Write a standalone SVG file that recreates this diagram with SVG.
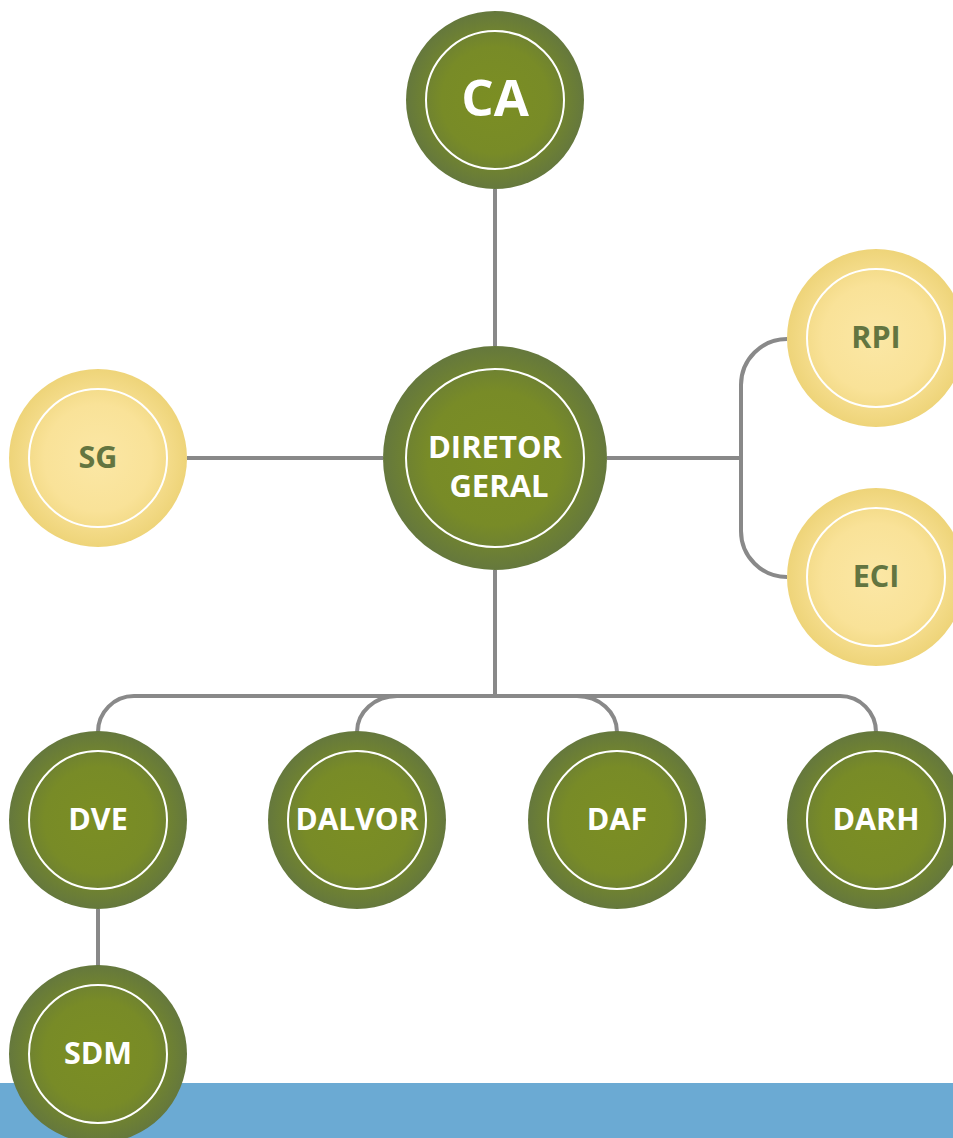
<svg xmlns="http://www.w3.org/2000/svg" width="953" height="1138" viewBox="0 0 953 1138">
<defs>
<radialGradient id="gG" cx="50%" cy="50%" r="50%">
<stop offset="0" stop-color="#7b8e23"/>
<stop offset="0.6" stop-color="#788b27"/>
<stop offset="1" stop-color="#65783d"/>
</radialGradient>
<radialGradient id="gY" cx="50%" cy="50%" r="50%">
<stop offset="0" stop-color="#fbe7a5"/>
<stop offset="0.6" stop-color="#f9e298"/>
<stop offset="1" stop-color="#eed479"/>
</radialGradient>
<style>
.conn{fill:none;stroke:#898989;stroke-width:4}
.og{fill:url(#gG)}
.oy{fill:url(#gY)}
.ring{fill:none;stroke:#ffffff;stroke-width:2}
.tw{font-family:"Open Sans","Noto Sans","Liberation Sans",sans-serif;font-weight:700;fill:#ffffff;text-anchor:middle;font-size:30.5px}
.ty{font-family:"Open Sans","Noto Sans","Liberation Sans",sans-serif;font-weight:700;fill:#637540;text-anchor:middle;font-size:30.5px}
</style>
</defs>
<rect x="0" y="0" width="953" height="1138" fill="#ffffff"/>
<rect x="0" y="1083" width="953" height="55" fill="#6baad3"/>
<g id="connectors">
<path class="conn" d="M495,189 V346"/>
<path class="conn" d="M187,458 H383"/>
<path class="conn" d="M607,458 H741"/>
<path class="conn" d="M787,339 A46,46 0 0 0 741,385 V531 A46,46 0 0 0 787,577"/>
<path class="conn" d="M495,570 V696"/>
<path class="conn" d="M98,732 A36,36 0 0 1 134,696 H840 A36,36 0 0 1 876,732"/>
<path class="conn" d="M357,732 A40,36 0 0 1 397,696"/>
<path class="conn" d="M617,732 A40,36 0 0 0 577,696"/>
<path class="conn" d="M98,909 V966"/>
</g>
<g id="node-ca">
<circle class="og" cx="495" cy="100" r="89"/>
<circle class="ring" cx="495" cy="100" r="69"/>
<text class="tw" x="495" y="116" style="font-size:51px">CA</text>
</g>
<g id="node-diretor">
<circle class="og" cx="495" cy="458" r="112"/>
<circle class="ring" cx="495" cy="458" r="89"/>
<text class="tw" x="495" y="458" style="font-size:31px">DIRETOR</text>
<text class="tw" x="499" y="497" style="font-size:31px">GERAL</text>
</g>
<g id="node-sg">
<circle class="oy" cx="98" cy="458" r="89"/>
<circle class="ring" cx="98" cy="458" r="69"/>
<text class="ty" x="98" y="468">SG</text>
</g>
<g id="node-rpi">
<circle class="oy" cx="876" cy="338" r="89"/>
<circle class="ring" cx="876" cy="338" r="69"/>
<text class="ty" x="876" y="348">RPI</text>
</g>
<g id="node-eci">
<circle class="oy" cx="876" cy="577" r="89"/>
<circle class="ring" cx="876" cy="577" r="69"/>
<text class="ty" x="876" y="587">ECI</text>
</g>
<g id="node-dve">
<circle class="og" cx="98" cy="820" r="89"/>
<circle class="ring" cx="98" cy="820" r="69"/>
<text class="tw" x="98" y="830">DVE</text>
</g>
<g id="node-dalvor">
<circle class="og" cx="357" cy="820" r="89"/>
<circle class="ring" cx="357" cy="820" r="69"/>
<text class="tw" x="357" y="830" style="font-size:30px">DALVOR</text>
</g>
<g id="node-daf">
<circle class="og" cx="617" cy="820" r="89"/>
<circle class="ring" cx="617" cy="820" r="69"/>
<text class="tw" x="617" y="830">DAF</text>
</g>
<g id="node-darh">
<circle class="og" cx="876" cy="820" r="89"/>
<circle class="ring" cx="876" cy="820" r="69"/>
<text class="tw" x="876" y="830">DARH</text>
</g>
<g id="node-sdm">
<circle class="og" cx="98" cy="1054" r="89"/>
<circle class="ring" cx="98" cy="1054" r="69"/>
<text class="tw" x="98" y="1064">SDM</text>
</g>
</svg>
